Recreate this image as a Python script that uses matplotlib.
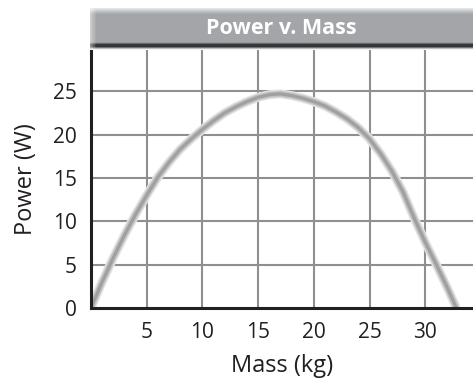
import numpy as np
import matplotlib
matplotlib.use("Agg")
import matplotlib.pyplot as plt

plt.rcParams['font.family'] = ['Open Sans', 'DejaVu Sans']

# power curve, read at each kg
mass = [0, 1, 2, 3, 4, 5, 6, 7, 8, 9, 10, 11, 12, 13, 14, 15, 16, 17,
        18, 19, 20, 21, 22, 23, 24, 25, 26, 27, 28, 29, 30, 31, 32, 32.8]
power = [0, 3.0, 5.8, 8.4, 10.8, 13.0, 15.1, 16.8, 18.3, 19.5, 20.6, 21.6,
         22.5, 23.2, 23.8, 24.3, 24.6, 24.7, 24.5, 24.2, 23.8, 23.3, 22.6,
         21.8, 20.8, 19.5, 17.8, 15.8, 13.4, 10.4, 7.6, 5.0, 2.3, 0]

xticks = [5, 10, 15, 20, 25, 30]
yticks = [0, 5, 10, 15, 20, 25]
title = "Power v. Mass"

W, H = 473, 380
fig = plt.figure(figsize=(W / 100, H / 100), dpi=100)

# plot area in pixels: left 91, right 473, top 50, bottom 308
ax = fig.add_axes([91 / W, (H - 308) / H, (W - 91) / W, (308 - 50) / H])
ax.set_xlim(0, (W - 91) / 11.14)
ax.set_ylim(0, (308 - 50) / 8.67)

for x in [5, 10, 15, 20, 25, 30, 35]:
    ax.axvline(x, color='#8e8f92', lw=1.5, zorder=1)
for y in [5, 10, 15, 20, 25]:
    ax.axhline(y, color='#8e8f92', lw=1.5, zorder=1)

# soft grey tube for the curve
ax.plot(mass, power, color='#e4e4e4', lw=6.5, solid_capstyle='butt', zorder=3)
ax.plot(mass, power, color='#c2c2c2', lw=4.5, solid_capstyle='butt', zorder=3)
ax.plot(mass, power, color='#a0a0a0', lw=2.3, solid_capstyle='butt', zorder=3)

for s in ['top', 'right']:
    ax.spines[s].set_visible(False)
for s in ['left', 'bottom']:
    ax.spines[s].set_color('#231f20')
    ax.spines[s].set_linewidth(2.2)
    ax.spines[s].set_zorder(5)

ax.set_xticks(xticks)
ax.set_yticks(yticks)
ax.tick_params(length=0, labelsize=15, colors='#231f20')
ax.tick_params(axis='x', pad=10)
ax.tick_params(axis='y', pad=10)
ax.set_xlabel("Mass (kg)", fontsize=17, color='#231f20', labelpad=8)
ax.set_ylabel("Power (W)", fontsize=17, color='#231f20', labelpad=11)

# title banner with vertical shading
bar = fig.add_axes([90 / W, (H - 50) / H, (W - 90) / W, 42 / H])
rows = np.arange(42)
stops = [0, 1, 2, 3, 5, 6, 33, 34, 35, 36, 38, 39, 40, 41]
vals = [0.90, 0.86, 0.81, 0.76, 0.68, 0.65, 0.65, 0.60, 0.42, 0.22, 0.20, 0.45, 0.75, 0.95]
shade = np.interp(rows, stops, vals)
cols = np.arange(383)
edge = np.clip(cols / 6.0, 0, 1)
img = np.ones((42, 383, 3))
for c, tint in enumerate([0.985, 1.0, 1.015]):
    body = np.clip(shade * tint, 0, 1)[:, None]
    img[:, :, c] = 1 - (1 - body) * (0.55 + 0.45 * edge)[None, :]
bar.imshow(img, aspect='auto', extent=[0, 1, 0, 1], interpolation='bilinear')
bar.set_xlim(0, 1)
bar.set_ylim(0, 1)
bar.axis('off')
bar.text(0.5, 0.52, title, color='white', fontsize=15.5, fontweight='bold',
         ha='center', va='center', transform=bar.transAxes)

fig.savefig("out.png", dpi=100)
